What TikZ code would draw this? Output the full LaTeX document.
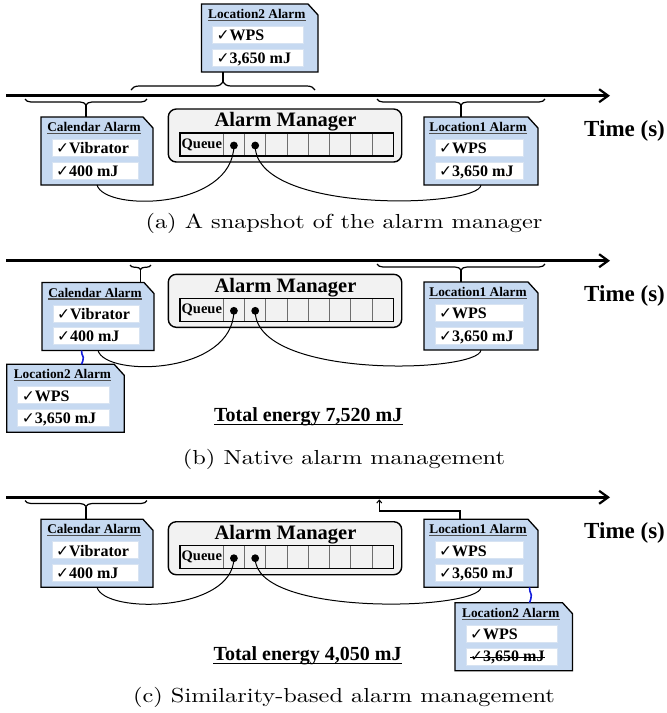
\documentclass[tikz,border=0pt]{standalone}
\usepackage{fontspec}
\newfontfamily\tnr{Liberation Serif}
\newfontfamily\symf{DejaVu Sans}
\newfontfamily\capf{lmroman10-regular.otf}[FakeStretch=1.2]
\usetikzlibrary{arrows.meta,decorations.pathreplacing,calc}
\definecolor{boxblue}{RGB}{198,217,241}
\definecolor{innerb}{RGB}{215,227,242}
\definecolor{amgray}{RGB}{242,242,242}
\definecolor{tline}{RGB}{80,80,80}
\definecolor{cellg}{RGB}{110,110,110}
\definecolor{squigblue}{RGB}{20,30,220}
\newcommand{\ck}{{\symf\fontsize{15.5}{15.5}\selectfont ✓}}
\tikzset{
  alarmbody/.style={draw=black, fill=boxblue, line width=1.3pt, line join=miter},
  innerbox/.style={draw=innerb, fill=white, line width=1pt},
  ttltxt/.style={font=\tnr\bfseries\fontsize{13.3}{14}\selectfont, inner sep=0pt},
  itmtxt/.style={font=\tnr\bfseries\fontsize{16}{17}\selectfont, inner sep=0pt},
  amtxt/.style={font=\tnr\bfseries\fontsize{20.5}{22}\selectfont, inner sep=0pt},
  qtxt/.style={font=\tnr\bfseries\fontsize{14.5}{15}\selectfont, inner sep=0pt},
  tmstxt/.style={font=\tnr\bfseries\fontsize{23}{24}\selectfont, inner sep=0pt},
  tottxt/.style={font=\tnr\bfseries\fontsize{20}{21}\selectfont, inner sep=0pt},
  captxt/.style={font=\capf\fontsize{20.3}{24}\selectfont, inner sep=0pt},
  ttlline/.style={draw=tline, line width=1.2pt},
  timeline/.style={line width=2.6pt, -{Straight Barb[length=9pt,width=13pt,line width=2.2pt]}},
  brcdown/.style={decorate, decoration={brace, mirror, amplitude=#1}, line width=1.2pt},
  brcup/.style={decorate, decoration={brace, amplitude=#1}, line width=1.2pt},
  stemline/.style={line width=1.2pt},
  connline/.style={line width=1pt},
  dotnode/.style={circle, fill=black, inner sep=0pt, minimum size=7.8pt},
  cellline/.style={draw=cellg, line width=0.9pt},
  squig/.style={draw=squigblue, line width=1.6pt},
  smarrow/.style={line width=1.1pt, -{Straight Barb[length=3pt,width=5pt,line width=1pt]}},
  ulline/.style={line width=1.3pt},
}
% name, x, y, width, title, item1, item2
\newcommand{\alarmbox}[7]{%
  \node[inner sep=0pt, outer sep=0pt, minimum width=#4pt, minimum height=68pt] (#1) at ({#2+#4/2},{#3+34}) {};
  \draw[alarmbody] (#1.north west) -- ([xshift=-10pt]#1.north east) -- ([yshift=-11pt]#1.north east) -- (#1.south east) -- (#1.south west) -- cycle;
  \node[ttltxt, anchor=base] (#1-t) at ({#2+#4/2-3},{#3+14.5}) {#5};
  \draw[ttlline] ([yshift=-2pt]#1-t.base west) -- ([yshift=-2pt]#1-t.base east);
  \draw[innerbox] ({#2+11},{#3+22.5}) rectangle ({#2+#4-15},{#3+39.5});
  \draw[innerbox] ({#2+11},{#3+45.3}) rectangle ({#2+#4-15},{#3+62.3});
  \node[itmtxt, anchor=base west] (#1-i1) at ({#2+15},{#3+36.7}) {\ck #6};
  \node[itmtxt, anchor=base west] (#1-i2) at ({#2+15},{#3+59.2}) {\ck #7};
}
% name, top y
\newcommand{\amgr}[2]{%
  \node[draw=black, fill=amgray, line width=1.4pt, rounded corners=8pt, minimum width=233.4pt, minimum height=53pt, inner sep=0pt] (#1) at (285,{#2+26.5}) {};
  \node[amtxt, anchor=base] (#1-t) at (285.5,{#2+17.7}) {Alarm Manager};
  \node[draw=black, line width=1.2pt, minimum width=213.3pt, minimum height=23pt, inner sep=0pt] (#1-q) at (286.65,{#2+35.5}) {};
  \node[qtxt] (#1-ql) at (201.8,{#2+35.5}) {Queue};
  \foreach \i in {0,...,7} {\draw[cellline] ({223.3+21.25*\i},{#2+24.6}) -- ({223.3+21.25*\i},{#2+46.4});}
  \node[dotnode] (#1-d1) at (233.9,{#2+36.5}) {};
  \node[dotnode] (#1-d2) at (255.2,{#2+36.5}) {};
}
\begin{document}
\begin{tikzpicture}[x=1pt,y=-1pt]
\useasboundingbox (0,0) rectangle (667,713);

% ---------------- (a) ----------------
\coordinate (tla0) at (6,95.7);
\coordinate (tla1) at (610,95.7);
\draw[timeline] (tla0) -- (tla1);
\alarmbox{loc2-a}{201.5}{4}{116.5}{Location2 Alarm}{WPS}{3,650 mJ}
\alarmbox{cal-a}{41}{117}{112}{Calendar Alarm}{Vibrator}{400 mJ}
\alarmbox{loc1-a}{424}{117}{114}{Location1 Alarm}{WPS}{3,650 mJ}
\amgr{am-a}{109}
\node[tmstxt, anchor=base west] (time-a) at (584,136.7) {Time (s)};
\coordinate (ba1l) at (25,99); \coordinate (ba1r) at (147,99); \coordinate (ba1t) at (86,105);
\draw[brcdown=6pt] (ba1l) -- (ba1r);
\draw[stemline] (ba1t) -- (ba1t |- cal-a.north);
\coordinate (ba2l) at (131,90); \coordinate (ba2r) at (315,90); \coordinate (ba2t) at (223,82);
\draw[brcup=8pt] (ba2l) -- (ba2r);
\draw[stemline] (ba2t) -- (ba2t |- loc2-a.south);
\coordinate (ba3l) at (377,99); \coordinate (ba3r) at (545,99); \coordinate (ba3t) at (461,105);
\draw[brcdown=6pt] (ba3l) -- (ba3r);
\draw[stemline] (ba3t) -- (ba3t |- loc1-a.north);
\draw[connline] (cal-a.south) .. controls +(8,27) and +(-1,64) .. (am-a-d1.center);
\draw[connline] (am-a-d2.center) .. controls +(0,69) and +(-2,23) .. (loc1-a.south);
\node[captxt, anchor=base] (cap-a) at (344,228.3) {(a) A snapshot of the alarm manager};

% ---------------- (b) ----------------
\coordinate (tlb0) at (6,260.7);
\coordinate (tlb1) at (610,260.7);
\draw[timeline] (tlb0) -- (tlb1);
\alarmbox{cal-b}{42}{282.5}{112}{Calendar Alarm}{Vibrator}{400 mJ}
\alarmbox{loc1-b}{424}{282}{114}{Location1 Alarm}{WPS}{3,650 mJ}
\alarmbox{loc2-b}{6.7}{364.3}{117.5}{Location2 Alarm}{WPS}{3,650 mJ}
\amgr{am-b}{274.3}
\node[tmstxt, anchor=base west] (time-b) at (584,301.7) {Time (s)};
\coordinate (bb1l) at (130,265); \coordinate (bb1r) at (151,265); \coordinate (bb1t) at (140.5,269.5);
\draw[brcdown=4.5pt] (bb1l) -- (bb1r);
\draw[stemline] (bb1t) -- (bb1t |- cal-b.north);
\coordinate (bb3l) at (377,264); \coordinate (bb3r) at (545,264); \coordinate (bb3t) at (461,270);
\draw[brcdown=6pt] (bb3l) -- (bb3r);
\draw[stemline] (bb3t) -- (bb3t |- loc1-b.north);
\draw[connline] (cal-b.south) .. controls +(8,27) and +(-1,64) .. (am-b-d1.center);
\draw[connline] (am-b-d2.center) .. controls +(0,69) and +(-2,23) .. (loc1-b.south);
\path (cal-b.south west) ++(39.5,0) coordinate (sqb0);
\coordinate (sqbe) at (sqb0 |- loc2-b.north);
\coordinate (sqbm) at ($(sqb0)!0.5!(sqbe)+(1.8,0)$);
\draw[squig] (sqb0) .. controls +(-1.2,3) and +(0,-3) .. (sqbm) .. controls +(0,3) and +(1.2,-3) .. (sqbe);
\node[tottxt, anchor=base west] (tot-b) at (214,421) {Total energy 7,520 mJ};
\draw[ulline] ([yshift=-3.5pt]tot-b.base west) -- ([yshift=-3.5pt]tot-b.base east);
\node[captxt, anchor=base] (cap-b) at (344,464.5) {(b) Native alarm management};

% ---------------- (c) ----------------
\coordinate (tlc0) at (6,497.3);
\coordinate (tlc1) at (610,497.3);
\draw[timeline] (tlc0) -- (tlc1);
\alarmbox{cal-c}{41}{519.3}{112}{Calendar Alarm}{Vibrator}{400 mJ}
\alarmbox{loc1-c}{424}{519.3}{114}{Location1 Alarm}{WPS}{3,650 mJ}
\alarmbox{loc2-c}{455}{602.7}{117.5}{Location2 Alarm}{WPS}{3,650 mJ}
\draw[line width=1.3pt] ([yshift=4.3pt]loc2-c-i2.base west) -- ([yshift=4.3pt]loc2-c-i2.base east);
\amgr{am-c}{521.7}
\node[tmstxt, anchor=base west] (time-c) at (584,538.5) {Time (s)};
\coordinate (bc1l) at (25,500.5); \coordinate (bc1r) at (147,500.5); \coordinate (bc1t) at (86,506.5);
\draw[brcdown=6pt] (bc1l) -- (bc1r);
\draw[stemline] (bc1t) -- (bc1t |- cal-c.north);
\path (loc1-c.north) ++(-21,0) coordinate (ca0);
\coordinate (ca1) at ($(ca0)+(0,-8.3)$);
\coordinate (ca2) at (379.3,499.3);
\draw[smarrow] (ca0) -- (ca1) -| (ca2);
\draw[connline] (cal-c.south) .. controls +(8,27) and +(-1,54) .. (am-c-d1.center);
\draw[connline] (am-c-d2.center) .. controls +(0,59) and +(-2,23) .. (loc1-c.south);
\path (loc1-c.south west) ++(105.5,0) coordinate (sqc0);
\coordinate (sqce) at (sqc0 |- loc2-c.north);
\coordinate (sqcm) at ($(sqc0)!0.5!(sqce)+(1.8,0)$);
\draw[squig] (sqc0) .. controls +(-1.2,3) and +(0,-3) .. (sqcm) .. controls +(0,3) and +(1.2,-3) .. (sqce);
\node[tottxt, anchor=base west] (tot-c) at (213.3,660) {Total energy 4,050 mJ};
\draw[ulline] ([yshift=-3.5pt]tot-c.base west) -- ([yshift=-3.5pt]tot-c.base east);
\node[captxt, anchor=base] (cap-c) at (344,702.5) {(c) Similarity-based alarm management};
\end{tikzpicture}
\end{document}
